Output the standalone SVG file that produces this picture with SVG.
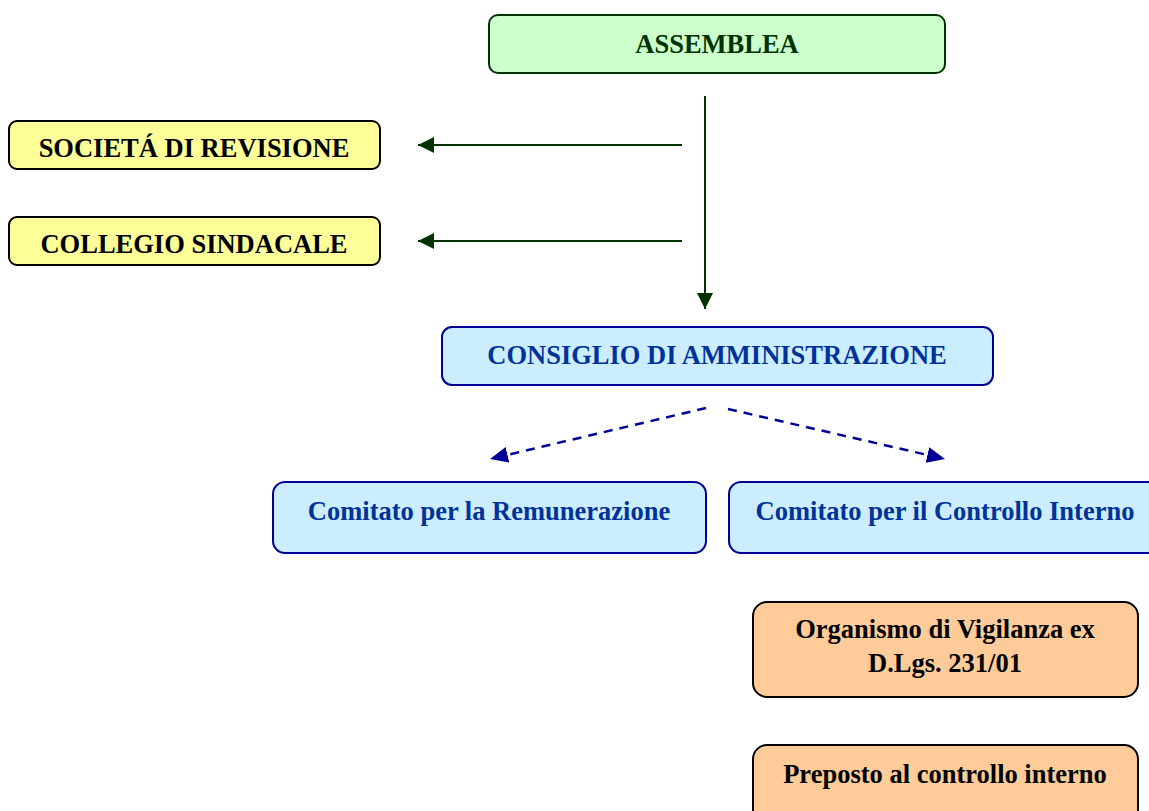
<svg xmlns="http://www.w3.org/2000/svg" width="1149" height="811" viewBox="0 0 1149 811">
<style>
text{font-family:"Liberation Serif","Times New Roman",serif;font-weight:bold;font-size:26.5px;text-anchor:middle}
.green rect{fill:#CCFFCC;stroke:#003300;stroke-width:2}
.green text{fill:#003300}
.yellow rect{fill:#FFFF99;stroke:#000000;stroke-width:2}
.yellow text{fill:#000000}
.blue rect{fill:#CCECFF;stroke:#000099;stroke-width:2}
.blue text{fill:#003399}
.orange rect{fill:#FFCC99;stroke:#000000;stroke-width:2}
.orange text{fill:#000000}
.gl{stroke:#003300;stroke-width:2;fill:none}
.bl{stroke:#000099;stroke-width:2.5;fill:none;stroke-dasharray:9,7}
</style>
<defs>
<marker id="ag" markerWidth="16" markerHeight="16" refX="16" refY="8" orient="auto" markerUnits="userSpaceOnUse">
<path d="M0,0 L16,8 L0,16 Z" fill="#003300"/>
</marker>
<marker id="ab" markerWidth="18" markerHeight="16" refX="18" refY="8" orient="auto" markerUnits="userSpaceOnUse">
<path d="M0,0 L18,8 L0,16 Z" fill="#000099"/>
</marker>
</defs>
<g id="connectors">
<line class="gl" x1="705" y1="96" x2="705" y2="309" marker-end="url(#ag)"/>
<line class="gl" x1="682" y1="145" x2="418" y2="145" marker-end="url(#ag)"/>
<line class="gl" x1="682" y1="241" x2="418" y2="241" marker-end="url(#ag)"/>
<line class="bl" x1="706" y1="408" x2="490" y2="459" marker-end="url(#ab)"/>
<line class="bl" x1="728" y1="409" x2="945" y2="459" marker-end="url(#ab)"/>
</g>
<g id="assemblea" class="green">
<rect x="489" y="15" width="456" height="58" rx="9"/>
<text x="717" y="53">ASSEMBLEA</text>
</g>
<g id="societa-revisione" class="yellow">
<rect x="9" y="121" width="371" height="48" rx="8"/>
<text x="194" y="157">SOCIETÁ DI REVISIONE</text>
</g>
<g id="collegio-sindacale" class="yellow">
<rect x="9" y="217" width="371" height="48" rx="8"/>
<text x="194" y="253">COLLEGIO SINDACALE</text>
</g>
<g id="consiglio" class="blue">
<rect x="442" y="327" width="551" height="58" rx="10"/>
<text x="717" y="364">CONSIGLIO DI AMMINISTRAZIONE</text>
</g>
<g id="comitato-remunerazione" class="blue">
<rect x="273" y="482" width="433" height="71" rx="12"/>
<text x="489" y="520">Comitato per la Remunerazione</text>
</g>
<g id="comitato-controllo" class="blue">
<rect x="729" y="482" width="440" height="71" rx="12"/>
<text x="945" y="520">Comitato per il Controllo Interno</text>
</g>
<g id="organismo-vigilanza" class="orange">
<rect x="753" y="602" width="385" height="95" rx="14"/>
<text x="945" y="638">Organismo di Vigilanza ex</text>
<text x="945" y="672">D.Lgs. 231/01</text>
</g>
<g id="preposto" class="orange">
<rect x="753" y="745" width="385" height="80" rx="14"/>
<text x="945" y="783">Preposto al controllo interno</text>
</g>
</svg>
